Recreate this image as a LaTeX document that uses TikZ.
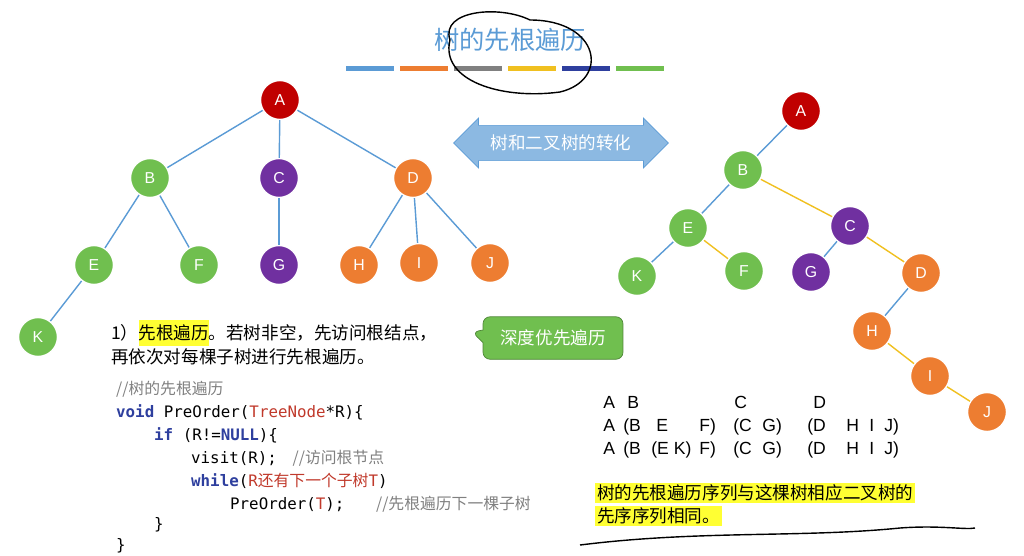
\documentclass[tikz,border=0pt]{standalone}
\usepackage{fontspec}
\setmainfont{Liberation Sans}
\newfontfamily\cjk{Noto Sans CJK SC}
\setmonofont{DejaVu Sans Mono}
\usetikzlibrary{shapes.arrows,shapes.callouts}
\definecolor{treeRed}{HTML}{C00000}
\definecolor{treeGreen}{HTML}{70BF4F}
\definecolor{treePurple}{HTML}{7030A0}
\definecolor{treeOrange}{HTML}{ED7D31}
\definecolor{lineBlue}{HTML}{5B9BD5}
\definecolor{lineYellow}{HTML}{F0C020}
\definecolor{markYellow}{HTML}{FFFF33}
\definecolor{codeRed}{HTML}{C0392B}
\definecolor{codeBlue}{HTML}{2E3F9E}
\begin{document}
\begin{tikzpicture}
[x=0.02cm,y=-0.02cm,
  nodeDecorate/.style={shape=circle,minimum size=0.78cm,inner sep=0pt,draw=white,thick,text=white,font=\small},%
  lineDecorate/.style={-,draw=lineBlue,thick},%
  sibDecorate/.style={-,draw=lineYellow,thick}]
\useasboundingbox (0,0) rectangle (1024,555);
%%
%% title
\node (title) at (510,40) {\cjk\Large\color{lineBlue}树的先根遍历};
\foreach \i/\c in {0/lineBlue, 1/treeOrange, 2/gray, 3/lineYellow, 4/codeBlue, 5/treeGreen}
{
  \fill[\c] (346+\i*54,66) rectangle +(48,5);
}
\draw[thick] (450,40) .. controls (440,10) and (500,5) .. (530,20)
  .. controls (600,20) and (610,80) .. (560,92) .. controls (500,100) and (440,80) .. (450,40);
%%
%% left tree: nodes
\foreach \nodename/\x/\y/\c in {
  A/280/100/treeRed, B/150/178/treeGreen, C/279/178/treePurple, D/413/178/treeOrange,
  E/94/265/treeGreen, F/199/265/treeGreen, G/279/265/treePurple, H/359/265/treeOrange,
  I/419/263/treeOrange, J/490/263/treeOrange, K/38/337/treeGreen}
{
  \node (\nodename) at (\x,\y) [nodeDecorate,fill=\c] {\nodename};
}
%% left tree: edges
\path
\foreach \startnode/\endnode in {A/B, A/C, A/D, B/E, B/F, C/G, D/H, D/I, D/J, E/K}
{
  (\startnode) edge[lineDecorate] (\endnode)
};
%%
%% right tree: nodes
\foreach \nodename/\x/\y/\c in {
  A/801/111/treeRed, B/743/170/treeGreen, C/850/226/treePurple, E/688/228/treeGreen,
  F/744/271/treeGreen, G/811/272/treePurple, D/921/273/treeOrange, K/637/276/treeGreen,
  H/872/331/treeOrange, I/930/376/treeOrange, J/987/412/treeOrange}
{
  \node (r\nodename) at (\x,\y) [nodeDecorate,fill=\c] {\nodename};
}
%% right tree: edges
\path
\foreach \startnode/\endnode in {A/B, B/E, E/K, C/G}
{
  (r\startnode) edge[lineDecorate] (r\endnode)
};
\path
\foreach \startnode/\endnode in {B/C, E/F, C/D, H/I, I/J}
{
  (r\startnode) edge[sibDecorate] (r\endnode)
};
\path (rD) edge[lineDecorate] (rH);
%%
%% conversion arrow
\node (conv) at (561,143) [double arrow,fill=lineBlue!70,draw=lineBlue,
  minimum height=4.3cm,minimum width=1.0cm,double arrow head extend=0.1cm,
  inner sep=2pt,text=white] {\cjk 树和二叉树的转化};
%%
%% description
\node (desc) at (105,333) [anchor=west,font=\cjk] {1）\colorbox{markYellow}{\hspace{-3pt}先根遍历\hspace{-3pt}}。若树非空，先访问根结点，};
\node (desc2) at (105,357) [anchor=west,font=\cjk] {再依次对每棵子树进行先根遍历。};
\node (dfs) at (553,338) [rectangle callout,rounded corners=4pt,fill=treeGreen,draw=treeGreen!70!black,
  callout absolute pointer={(472,332)},text=white,minimum width=2.8cm,minimum height=0.85cm,font=\cjk] {深度优先遍历};
%%
%% code
\begin{scope}[font=\ttfamily\small,anchor=west]
\node (c1) at (110,389) {\color{gray}\cjk //树的先根遍历};
\node (c2) at (110,412) {\color{codeBlue}\bfseries void\color{black}\mdseries{} PreOrder(\color{codeRed}TreeNode\color{black} *R)\{};
\node (c3) at (148,435) {\color{codeBlue}\bfseries if\color{black}\mdseries{} (R!=\color{codeBlue}\bfseries NULL\color{black}\mdseries)\{};
\node (c4) at (185,458) {visit(R);\quad \color{gray}\cjk //访问根节点};
\node (c5) at (185,481) {\color{codeBlue}\bfseries while\color{black}\mdseries(\color{codeRed}R{\cjk 还有下一个子树}T\color{black})};
\node (c6) at (224,504) {PreOrder(\color{codeRed}T\color{black});\quad\quad \color{gray}\cjk //先根遍历下一棵子树};
\node (c7) at (148,525) {\}};
\node (c8) at (110,546) {\}};
\end{scope}
%%
%% sequences
\foreach \txt/\x/\y in {
  A/603/408, B/627/408, C/734/408, D/813/408,
  A/603/431, {(B}/623/431, E/656/431, {F)}/699/431, {(C}/733/431, {G)}/762/431,
  {(D}/807/431, H/846/431, I/869/431, {J)}/884/431,
  A/603/454, {(B}/623/454, {(E K)}/651/454, {F)}/699/454, {(C}/733/454, {G)}/762/454,
  {(D}/807/454, H/846/454, I/869/454, {J)}/884/454}
{
  \node[anchor=base west,inner sep=0pt] at (\x,\y) {\txt};
}
\node (res1) at (595,493) [anchor=west,font=\cjk,fill=markYellow,inner sep=1pt] {树的先根遍历序列与这棵树相应二叉树的};
\node (res2) at (595,516) [anchor=west,font=\cjk,fill=markYellow,inner sep=1pt] {先序序列相同。};
\draw[thick] (580,545) .. controls (700,530) and (800,538) .. (900,528) .. controls (940,525) and (965,530) .. (975,528);
\end{tikzpicture}
\end{document}
